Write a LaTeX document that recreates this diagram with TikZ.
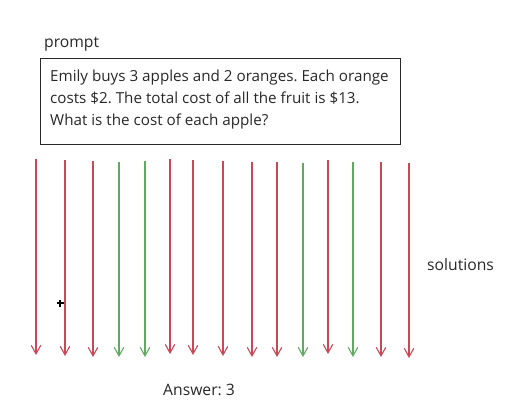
\documentclass[tikz,border=0pt]{standalone}
\usepackage{fontspec}
\setmainfont{Open Sans}
\usetikzlibrary{arrows.meta}
\definecolor{redarr}{RGB}{201,72,86}
\definecolor{greenarr}{RGB}{96,170,96}
\definecolor{inkgray}{RGB}{40,40,40}
\tikzset{
  sol/.style={line width=1.3pt, -{Straight Barb[length=8.5pt,width=9.5pt,line width=1.1pt]}},
  bad/.style={sol, draw=redarr},
  good/.style={sol, draw=greenarr},
  lbl/.style={font=\fontsize{15.7}{18}\selectfont, text=inkgray, inner sep=0pt},
}
\frenchspacing
\begin{document}
\begin{tikzpicture}[x=1pt,y=-1pt]
\useasboundingbox (0,0) rectangle (530,406);
\node[lbl, anchor=west] (prompt) at (44,44) {prompt};
\node[draw=inkgray, line width=1pt, minimum width=360pt, minimum height=86pt, anchor=north west, inner sep=0pt] (box) at (40,58) {};
\node[lbl, anchor=north west, align=left, font=\fontsize{15.2}{21.7}\selectfont, text=inkgray] (ptext) at (50,70)
  {Emily buys 3 apples and 2 oranges. Each orange\\costs \$2. The total cost of all the fruit is \$13.\\What is the cost of each apple?};
% arrows
\foreach \x/\t/\b/\s [count=\i] in {36/159/355/bad, 65/160/356/bad, 93/161/357/bad, 119/162/357/good, 145/161/357/good, 170/159/354/bad, 193/160/355/bad, 223/161/356/bad, 252/162/357/bad, 277/162/357/bad, 303/163/357/good, 328/160/354/bad, 353/162/357/good, 381/162/357/bad, 409/163/358/bad}{
  \coordinate (t\i) at (\x,\t);
  \coordinate (b\i) at (\x,\b);
  \draw[\s] (t\i) -- (b\i);
}
\node[lbl, anchor=west] (sols) at (427,265) {solutions};
\node[lbl, anchor=west] (ans) at (163,390) {Answer: 3};
% cursor
\coordinate (cur) at (60,303);
\draw[line width=1.6pt, black] ([xshift=-3.5pt]cur) -- ([xshift=3.5pt]cur) ([yshift=-3.5pt]cur) -- ([yshift=3.5pt]cur);
\end{tikzpicture}
\end{document}
